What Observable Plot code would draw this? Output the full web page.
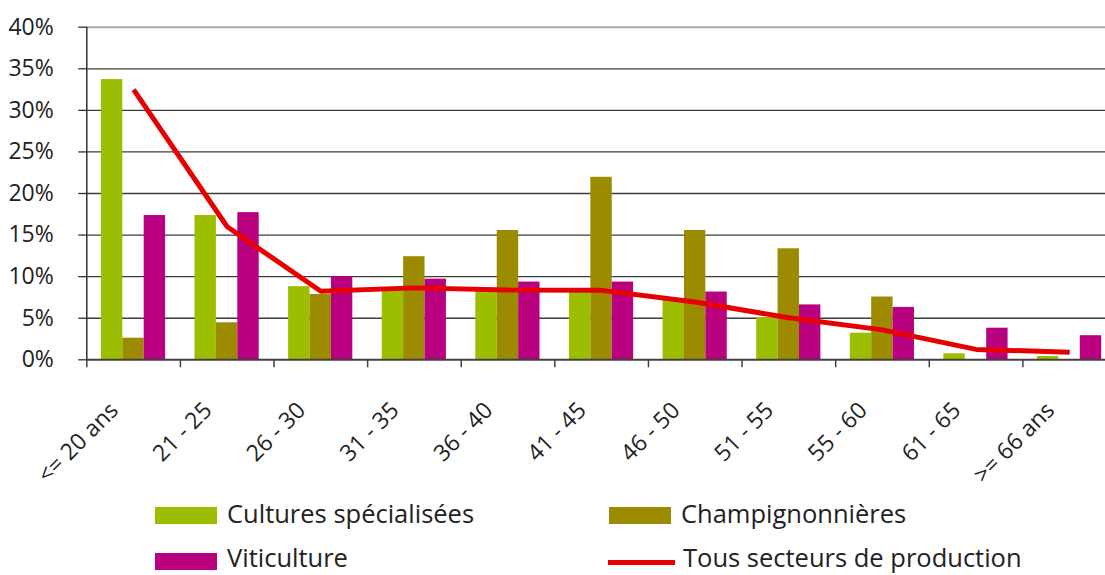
<!DOCTYPE html>
<html>
<head>
<meta charset="utf-8">
<script src="https://cdn.jsdelivr.net/npm/d3@7"></script>
<script src="https://cdn.jsdelivr.net/npm/@observablehq/plot@0.6"></script>
<style>
  html, body { margin: 0; padding: 0; background: #fff; }
  #chart { position: relative; width: 1105px; height: 575px; overflow: hidden; font-family: "Open Sans", sans-serif; }
  #chart svg { display: block; }
  .sw { position: absolute; width: 62px; height: 17px; }
  .ln { position: absolute; width: 67px; height: 5px; }
  .lt { position: absolute; font-size: 25.5px; line-height: 25px; color: #222; white-space: nowrap; }
</style>
</head>
<body>
<div id="chart"></div>
<script>
const categories = ["<= 20 ans", "21 - 25", "26 - 30", "31 - 35", "36 - 40", "41 - 45", "46 - 50", "51 - 55", "55 - 60", "61 - 65", ">= 66 ans"];
const cultures     = [33.7, 17.35, 8.8, 8.4, 8.2, 8.1, 7.2, 5.05, 3.2, 0.72, 0.4];
const champignons  = [2.6, 4.45, 7.85, 12.4, 15.55, 21.95, 15.55, 13.35, 7.55, 0, 0];
const viticulture  = [17.35, 17.7, 10.0, 9.7, 9.35, 9.35, 8.15, 6.6, 6.3, 3.8, 2.9];
const tous         = [32.5, 16.0, 8.25, 8.65, 8.4, 8.35, 6.95, 5.05, 3.6, 1.25, 0.92];
const yTicks = [0, 5, 10, 15, 20, 25, 30, 35, 40];
const seriesNames = ["Cultures spécialisées", "Champignonnières", "Viticulture", "Tous secteurs de production"];
const colors = ["#9BBF00", "#9C8B00", "#B9007E", "#E60000"];

const rows = categories.map((c, i) => ({cat: c, cultures: cultures[i], champignons: champignons[i], viticulture: viticulture[i], tous: tous[i]}));

const W = 1105, H = 495;
const mL = 86.3, mR = -11, mT = 26.7, mB = H - 359.3;
const band = (W - mR - mL) / categories.length;
const bw = 21.4, off = 14.6;

const plot = Plot.plot({
  width: W, height: H,
  marginLeft: mL, marginRight: mR, marginTop: mT, marginBottom: mB,
  style: {fontFamily: "'Open Sans', sans-serif", color: "#222", background: "transparent"},
  x: {type: "band", domain: categories, padding: 0, round: false, axis: null, label: null},
  y: {domain: [0, 40], axis: null, label: null},
  marks: [
    Plot.ruleY(yTicks.filter(d => d > 0 && d < 40), {stroke: "#3c3c3c", strokeWidth: 1.3}),
    Plot.ruleY([40], {stroke: "#a8a8a8", strokeWidth: 2}),
    Plot.barY(rows, {x: "cat", y: "cultures", fill: colors[0], insetLeft: off, insetRight: band - off - bw}),
    Plot.barY(rows, {x: "cat", y: "champignons", fill: colors[1], insetLeft: off + bw, insetRight: band - off - 2 * bw}),
    Plot.barY(rows, {x: "cat", y: "viticulture", fill: colors[2], insetLeft: off + 2 * bw, insetRight: band - off - 3 * bw}),
    Plot.ruleY([0], {stroke: "#404040", strokeWidth: 2}),
    Plot.ruleX([categories[0]], {y1: 0, y2: 40, dx: -band / 2, stroke: "#303030", strokeWidth: 1.5}),
    Plot.axisX({ticks: categories, tickSize: 8, tickFormat: () => "", label: null, dx: -band / 2, stroke: "#404040", strokeWidth: 1.5}),
    Plot.axisY({ticks: yTicks, tickSize: 8, tickPadding: 25, tickFormat: d => d + "%", fontSize: 23, stroke: "#303030", strokeWidth: 1.3, label: null}),
    Plot.lineY(rows, {x: "cat", y: "tous", stroke: colors[3], strokeWidth: 5, strokeLinecap: "butt", strokeLinejoin: "miter"}),
    Plot.text(categories, {x: d => d, frameAnchor: "bottom", text: d => d, rotate: -45, textAnchor: "end", lineAnchor: "bottom", dx: -14, dy: 52, fontSize: 23, fill: "#222"})
  ]
});

const chart = document.getElementById("chart");
chart.appendChild(plot);

const legendItems = [
  {name: seriesNames[0], color: colors[0], type: "sw", sx: 155, sy: 507, tx: 227, baseline: 523.5},
  {name: seriesNames[1], color: colors[1], type: "sw", sx: 609, sy: 507, tx: 681, baseline: 523.5},
  {name: seriesNames[2], color: colors[2], type: "sw", sx: 155, sy: 553, tx: 227, baseline: 567.5},
  {name: seriesNames[3], color: colors[3], type: "ln", sx: 608, sy: 559.5, tx: 683, baseline: 567.5}
];
for (const it of legendItems) {
  const s = document.createElement("div");
  s.className = it.type;
  s.style.left = it.sx + "px";
  s.style.top = it.sy + "px";
  s.style.background = it.color;
  chart.appendChild(s);
  const t = document.createElement("div");
  t.className = "lt";
  t.textContent = it.name;
  t.style.left = it.tx + "px";
  t.style.top = (it.baseline - 22.1) + "px";
  chart.appendChild(t);
}
</script>
</body>
</html>
